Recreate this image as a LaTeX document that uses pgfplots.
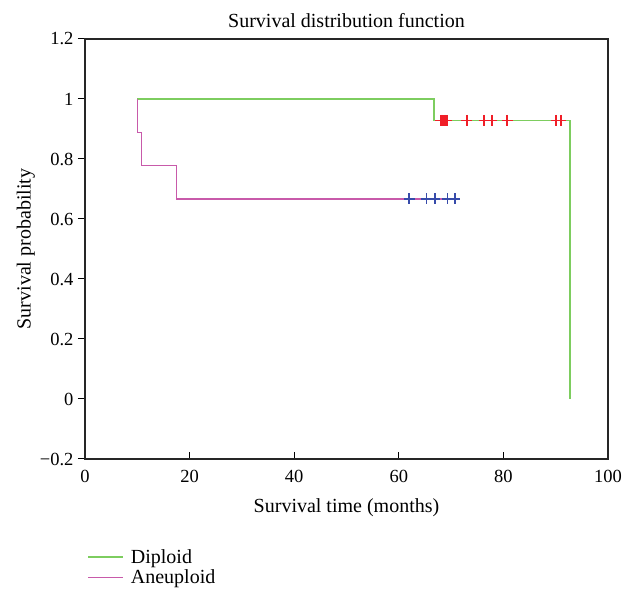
\documentclass[border=0pt]{standalone}
\usepackage{fontspec}
\setmainfont{Liberation Serif}
\usepackage{pgfplots}
\pgfplotsset{compat=1.18}
\definecolor{dipgreen}{RGB}{125,205,95}
\definecolor{aneupink}{RGB}{200,90,170}
\definecolor{cenred}{RGB}{240,30,40}
\definecolor{cenblue}{RGB}{55,75,170}

\begin{document}
\begin{tikzpicture}[x=1pt,y=1pt]
\begin{axis}[
  scale only axis,
  width=523pt, height=420pt,
  xmin=0, xmax=100, ymin=-0.2, ymax=1.2,
  xtick={0,20,...,100},
  ytick={-0.2,0,0.2,0.4,0.6,0.8,1,1.2},
  yticklabels={−0.2,0,0.2,0.4,0.6,0.8,1,1.2},
  xtick pos=bottom, ytick pos=left,
  xtick align=inside, ytick align=outside,
  major tick length=7pt,
  xtick style={black, line width=1pt},
  ytick style={black, line width=1pt},
  axis line style={line width=1.1pt, black!85},
  /pgf/number format/assume math mode=true,
  tick label style={font=\fontsize{18.5}{19}\selectfont},
  xticklabel style={yshift=-8pt},
  yticklabel style={xshift=-1pt},
  label style={font=\fontsize{20}{21}\selectfont},
  title style={font=\fontsize{20}{21}\selectfont, yshift=2pt},
  title={Survival distribution function},
  xlabel={Survival time (months)},
  xlabel style={yshift=-9pt},
  ylabel={Survival probability},
  ylabel style={yshift=-2pt},
  legend style={at={(0.004,-0.205)}, anchor=north west, draw=none, fill=none,
    font=\fontsize{20}{21}\selectfont, row sep=1pt, inner xsep=0pt,
    legend cell align=left},
  legend image code/.code={\draw[#1] (0pt,0pt) -- (35pt,0pt);},
]
% Diploid
\addplot[dipgreen, line width=1.6pt, const plot] coordinates {
  (10,1) (66.7,0.9286) (92.7,0.9286) (92.7,0)
};
\addlegendentry{\hspace{5pt}Diploid}
% Aneuploid
\addplot[aneupink, line width=1.6pt, const plot] coordinates {
  (10,1) (10,0.8889) (10.8,0.7778) (17.5,0.6667) (70.7,0.6667)
};
\addlegendentry{\hspace{5pt}Aneuploid}
% censored, diploid
\addplot[cenred, only marks, mark=+, mark size=5.5pt, line width=1.8pt, forget plot] coordinates {
  (68.0,0.9286) (68.3,0.9286) (68.6,0.9286) (68.9,0.9286) (69.2,0.9286)
  (73.0,0.9286) (76.3,0.9286) (77.8,0.9286) (80.7,0.9286) (90.1,0.9286) (91.0,0.9286)
};
\addplot[cenred, line width=9pt, forget plot] coordinates {(67.9,0.9286) (69.3,0.9286)};
% censored, aneuploid
\addplot[cenblue, only marks, mark=+, mark size=5.5pt, line width=1.6pt, forget plot] coordinates {
  (62.0,0.6667) (65.3,0.6667) (66.9,0.6667) (69.3,0.6667) (70.7,0.6667)
};
\end{axis}
\path ([shift={(-85pt,-130pt)}]current axis.south west) rectangle ([shift={(29pt,39pt)}]current axis.north east);
\end{tikzpicture}
\end{document}
